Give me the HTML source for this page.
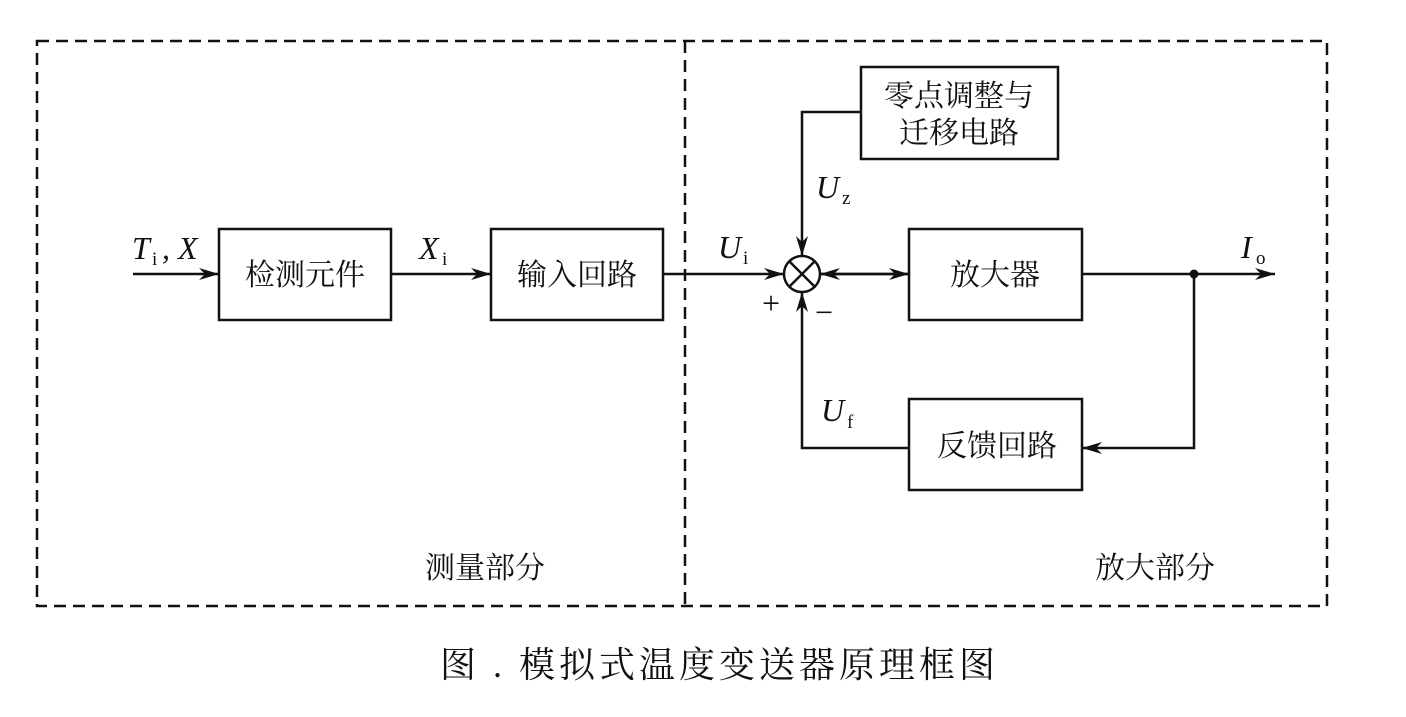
<!DOCTYPE html>
<html><head><meta charset="utf-8"><style>
body{margin:0;background:#fff;}
text{font-family:"Liberation Serif","Noto Serif CJK SC",serif;fill:#111;}
.c{font-family:"Liberation Serif","Noto Serif CJK SC",serif;font-size:30px;}
.i{font-style:italic;font-size:32px;}
.s{font-size:19px;}
</style></head><body>
<svg width="1406" height="712" xmlns="http://www.w3.org/2000/svg">
<defs><marker id="a" markerWidth="22" markerHeight="12" refX="20" refY="6" orient="auto" markerUnits="userSpaceOnUse"><path d="M0,0 L20,6 L0,12 L6,6 Z" fill="#111"/></marker></defs>
<g fill="none" stroke="#111" stroke-width="2.5">
<rect x="37" y="41" width="1290" height="565" stroke-dasharray="12,7"/>
<line x1="685" y1="41" x2="685" y2="606" stroke-dasharray="12,7"/>
<rect x="219" y="229" width="172" height="91"/>
<rect x="491" y="229" width="172" height="91"/>
<rect x="861" y="67" width="197" height="92"/>
<rect x="909" y="229" width="173" height="91"/>
<rect x="909" y="399" width="173" height="91"/>
<circle cx="802" cy="274" r="18"/>
<line x1="789" y1="261" x2="815" y2="287"/><line x1="815" y1="261" x2="789" y2="287"/>
<line x1="133" y1="274" x2="219" y2="274" marker-end="url(#a)"/>
<line x1="391" y1="274" x2="491" y2="274" marker-end="url(#a)"/>
<line x1="663" y1="274" x2="784" y2="274" marker-end="url(#a)"/>
<line x1="909" y1="274" x2="820" y2="274" marker-end="url(#a)"/>
<line x1="820" y1="274" x2="909" y2="274" marker-end="url(#a)"/>
<polyline points="861,112 802,112 802,256" marker-end="url(#a)"/>
<polyline points="909,448 802,448 802,292" marker-end="url(#a)"/>
<line x1="1082" y1="274" x2="1275" y2="274" marker-end="url(#a)"/>
<polyline points="1194,274 1194,448 1082,448" marker-end="url(#a)"/>
</g>
<circle cx="1194" cy="274" r="4.5" fill="#111"/>
<text class="c" x="305" y="285" text-anchor="middle">检测元件</text>
<text class="c" x="577" y="285" text-anchor="middle">输入回路</text>
<text class="c" x="959" y="106" text-anchor="middle">零点调整与</text>
<text class="c" x="959" y="143" text-anchor="middle">迁移电路</text>
<text class="c" x="995" y="285" text-anchor="middle">放大器</text>
<text class="c" x="997" y="456" text-anchor="middle">反馈回路</text>
<text class="c" x="485" y="578" text-anchor="middle">测量部分</text>
<text class="c" x="1155" y="578" text-anchor="middle">放大部分</text>
<text class="c" x="440" y="677" textLength="555" lengthAdjust="spacing" style="font-size:36px">图 . 模拟式温度变送器原理框图</text>
<text class="i" x="132" y="259">T</text><text class="s" x="152" y="265">i</text><text class="i" x="162" y="259">, X</text>
<text class="i" x="419" y="259">X</text><text class="s" x="442" y="265">i</text>
<text class="i" x="718" y="258">U</text><text class="s" x="743" y="264">i</text>
<text class="i" x="816" y="198">U</text><text class="s" x="842" y="204">z</text>
<text class="i" x="821" y="421">U</text><text class="s" x="847" y="428">f</text>
<text class="i" x="1241" y="258">I</text><text class="s" x="1256" y="264">o</text>
<text x="762" y="314" style="font-size:32px">+</text>
<text x="815" y="323" style="font-size:32px">−</text>
</svg>
</body></html>
